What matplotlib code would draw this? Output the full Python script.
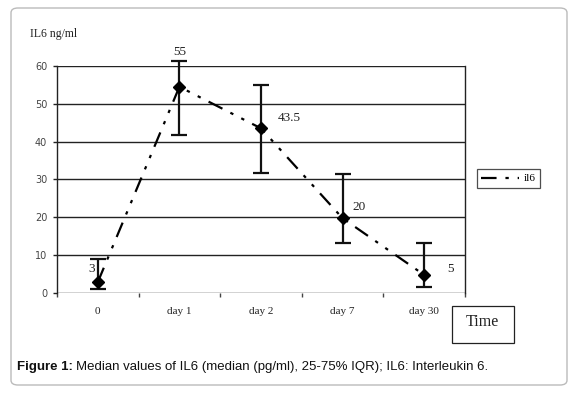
import matplotlib
matplotlib.use("Agg")
import matplotlib.pyplot as plt
from matplotlib.patches import FancyBboxPatch, Rectangle
from matplotlib.lines import Line2D
import numpy as np

categories = ["0", "day 1", "day 2", "day 7", "day 30"]
medians = [2.8, 54.5, 43.5, 19.7, 4.7]
q25 = [1.0, 41.7, 31.7, 13.1, 1.6]
q75 = [8.9, 61.3, 55.0, 31.5, 13.1]
value_labels = ["3", "55", "43.5", "20", "5"]
yticks = [0, 10, 20, 30, 40, 50, 60]

W, H = 580, 397
fig = plt.figure(figsize=(W / 100, H / 100), dpi=100)

# outer rounded frame
frame = FancyBboxPatch((11 / W, 1 - 385 / H), (567 - 11) / W, (385 - 8) / H,
                       boxstyle="round,pad=0,rounding_size=0.012",
                       transform=fig.transFigure, fc="white", ec="#bbbbbb", lw=1.0, zorder=-5)
fig.patches.append(frame)

ax = fig.add_axes([57 / W, 1 - 292.7 / H, (465 - 57) / W, (292.7 - 66) / H])
ax.set_zorder(2)
ax.set_facecolor("none")
x = np.arange(len(categories))

ax.set_ylim(0, 60)
ax.set_xlim(-0.5, len(categories) - 0.5)
for v in yticks:
    ax.axhline(v, color="#222222", lw=1.0, zorder=1)

yerr = [np.array(medians) - np.array(q25), np.array(q75) - np.array(medians)]
eb = ax.errorbar(x, medians, yerr=yerr, fmt="none", ecolor="#111111", elinewidth=1.6,
                 capsize=5.5, capthick=1.6, zorder=3)
for art in eb.lines[1]:
    art.set_clip_on(False)
for art in eb.lines[2]:
    art.set_clip_on(False)
dash_pat = (7, 4, 1.5, 4, 1.5, 4)
ax.plot(x, medians, color="black", lw=1.6, dashes=dash_pat,
        marker="D", markersize=6.5, markerfacecolor="black", markeredgecolor="black",
        zorder=4, clip_on=False)

# label offsets relative to each point (in data units), va=center
offsets = [(-0.03, 3.5), (0.0, 9.3), (0.2, 2.7), (0.12, 3.1), (0.28, 1.6)]
ha = ["right", "center", "left", "left", "left"]
for xi, yi, lab, (dx, dy), h in zip(x, medians, value_labels, offsets, ha):
    ax.text(xi + dx, yi + dy, lab, fontsize=9.5, family="Liberation Serif", ha=h,
            va="center", color="#222222", clip_on=False)

for s in ["top", "bottom"]:
    ax.spines[s].set_visible(False)
for s in ["left", "right"]:
    ax.spines[s].set_color("#222222")
    ax.spines[s].set_linewidth(1.0)

ax.set_yticks(yticks)
ax.set_yticklabels([str(v) for v in yticks], fontsize=7, color="#444444", family="DejaVu Sans")
ax.tick_params(axis="y", length=3, width=1, color="#222222", pad=4)
ax.set_xticks(x)
ax.set_xticklabels(categories, fontsize=8, family="Liberation Serif", color="#222222")
ax.tick_params(axis="x", length=0, pad=10)
ax.set_xticks(np.arange(-0.5, len(categories), 1.0), minor=True)
ax.tick_params(axis="x", which="minor", length=3, width=1, color="#444444")

fig.text(30 / W, 1 - 34 / H, "IL6 ng/ml", fontsize=8.5, family="Liberation Serif",
         va="center", ha="left", color="#222222")

# legend
leg = fig.legend([Line2D([0], [0], color="black", lw=1.6, dashes=dash_pat)],
                 ["il6"], loc="center left", bbox_to_anchor=(477 / W, 1 - 178.5 / H),
                 frameon=True, fancybox=False, edgecolor="#222222", handlelength=3.4,
                 prop={"family": "Liberation Serif", "size": 8}, borderpad=0.4,
                 handletextpad=0.4, borderaxespad=0)
leg.get_frame().set_linewidth(0.9)

# Time box
fig.patches.append(Rectangle((452 / W, 1 - 343 / H), (514 - 452) / W, (343 - 306) / H,
                             transform=fig.transFigure, fc="white", ec="#222222", lw=0.9))
fig.text(482 / W, 1 - 322 / H, "Time", fontsize=11.5, family="Liberation Serif",
         ha="center", va="center", color="#222222")

# caption
t1 = fig.text(17 / W, 1 - 367 / H, "Figure 1:", fontsize=9.5, family="Liberation Sans",
              weight="bold", ha="left", va="center", color="#111111")
fig.canvas.draw()
bb = t1.get_window_extent()
fig.text(bb.x1 / W + 3.5 / W, 1 - 367 / H,
         "Median values of IL6 (median (pg/ml), 25-75% IQR); IL6: Interleukin 6.",
         fontsize=9.5, family="Liberation Sans", ha="left", va="center", color="#111111")

fig.savefig("out.png", dpi=100)
